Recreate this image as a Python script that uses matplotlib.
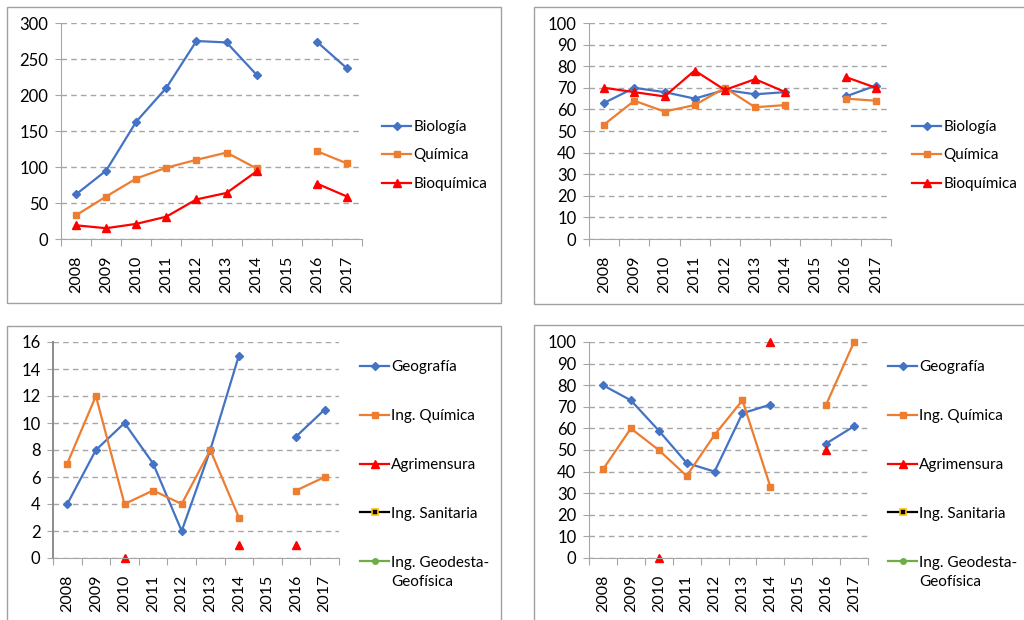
import numpy as np
import matplotlib
matplotlib.use("Agg")
import matplotlib.pyplot as plt
from matplotlib.patches import Rectangle

plt.rcParams['font.family'] = ['Lato', 'DejaVu Sans']

years = ['2008', '2009', '2010', '2011', '2012', '2013', '2014', '2015', '2016', '2017']
nan = np.nan

# Panel 1 (counts)
bio_count = [62, 95, 163, 210, 275, 273, 228, nan, 274, 237]
qui_count = [33, 59, 84, 99, 110, 120, 98, nan, 122, 105]
bioq_count = [19, 15, 21, 31, 55, 64, 94, nan, 77, 59]

# Panel 2 (percent)
bio_pct = [63, 70, 68, 65, 69, 67, 68, nan, 66, 71]
qui_pct = [53, 64, 59, 62, 70, 61, 62, nan, 65, 64]
bioq_pct = [70, 68, 66, 78, 69, 74, 68, nan, 75, 70]

# Panel 3 (counts)
geo_count = [4, 8, 10, 7, 2, 8, 15, nan, 9, 11]
ingq_count = [7, 12, 4, 5, 4, 8, 3, nan, 5, 6]
agr_count = [nan, nan, 0, nan, nan, nan, 1, nan, 1, nan]
san_count = [nan] * 10
geod_count = [nan] * 10

# Panel 4 (percent)
geo_pct = [80, 73, 59, 44, 40, 67, 71, nan, 53, 61]
ingq_pct = [41, 60, 50, 38, 57, 73, 33, nan, 71, 100]
agr_pct = [nan, nan, 0, nan, nan, nan, 100, nan, 50, nan]
san_pct = [nan] * 10
geod_pct = [nan] * 10

labels_top = ['Biología', 'Química', 'Bioquímica']
labels_bot = ['Geografía', 'Ing. Química', 'Agrimensura', 'Ing. Sanitaria', 'Ing. Geodesta-']
label_cont = 'Geofísica'

BLUE = '#4472C4'
ORANGE = '#ED7D31'
RED = '#FF0000'
BLACK = '#000000'
GREEN = '#70AD47'
GRID = '#A6A6A6'
AXIS = '#A6A6A6'
FS = 12
LFS = 11

W, H = 1024, 620
fig = plt.figure(figsize=(W / 100, H / 100), dpi=100)

# panel frames
for (x0, y0, x1, y1) in [(7, 7, 501, 303), (534, 7, 1030, 304), (7, 326, 501, 630), (534, 325, 1030, 630)]:
    fig.patches.append(Rectangle((x0 / W, 1 - y1 / H), (x1 - x0) / W, (y1 - y0) / H,
                                 transform=fig.transFigure, fill=False,
                                 edgecolor='#A0A0A0', linewidth=1.0, zorder=0))


def make_ax(left, right, top, bottom, ymax, ystep):
    ax = fig.add_axes([left / W, 1 - bottom / H, (right - left) / W, (bottom - top) / H])
    x = np.arange(len(years))
    ax.set_xlim(-0.5, len(years) - 0.5)
    ax.set_ylim(0, ymax)
    ax.set_yticks(np.arange(0, ymax + ystep / 2, ystep))
    ax.set_xticks(np.arange(-0.5, len(years)), minor=False)
    ax.set_xticklabels([])
    ax.set_xticks(x, minor=True)
    ax.set_xticklabels(years, minor=True, rotation=90, fontsize=11.5)
    ax.tick_params(axis='x', which='major', length=5, color=AXIS, direction='out')
    ax.tick_params(axis='x', which='minor', length=0, pad=12)
    ax.tick_params(axis='y', length=4, color=AXIS, labelsize=FS, pad=5)
    for s in ['top', 'right']:
        ax.spines[s].set_visible(False)
    ax.spines['left'].set_color(AXIS)
    ax.spines['bottom'].set_color(AXIS)
    ax.yaxis.grid(True, linestyle=(0, (4, 3)), color=GRID, linewidth=1.0)
    ax.set_axisbelow(True)
    ax.patch.set_alpha(0)
    return ax, x


def legend(ax, handles, labels, x_px, yc_px, spacing):
    leg = ax.legend(handles, labels, loc='center left',
                    bbox_to_anchor=(x_px / W, 1 - yc_px / H), bbox_transform=fig.transFigure,
                    frameon=False, fontsize=LFS, handlelength=1.9, handletextpad=0.15,
                    borderpad=0, borderaxespad=0, labelspacing=spacing)
    return leg


# Panel 1
ax1, x = make_ax(61, 362, 23, 239, 300, 50)
h = []
h += ax1.plot(x, bio_count, color=BLUE, marker='D', ms=4, lw=1.6, clip_on=False)
h += ax1.plot(x, qui_count, color=ORANGE, marker='s', ms=5, lw=1.6, clip_on=False)
h += ax1.plot(x, bioq_count, color=RED, marker='^', ms=5.5, lw=1.6, clip_on=False)
legend(ax1, h, labels_top, 382, 155.5, 0.95)

# Panel 2
ax2, x = make_ax(589, 891, 23, 239, 100, 10)
h = []
h += ax2.plot(x, bio_pct, color=BLUE, marker='D', ms=4, lw=1.6, clip_on=False)
h += ax2.plot(x, qui_pct, color=ORANGE, marker='s', ms=5, lw=1.6, clip_on=False)
h += ax2.plot(x, bioq_pct, color=RED, marker='^', ms=5.5, lw=1.6, clip_on=False)
legend(ax2, h, labels_top, 912, 155.5, 0.95)

bottom_legends = []


def bottom_panel(ax, x, geo, ingq, agr, san, geod, lx):
    h = []
    h += ax.plot(x, geo, color=BLUE, marker='D', ms=4, lw=1.6, clip_on=False)
    h += ax.plot(x, ingq, color=ORANGE, marker='s', ms=5, lw=1.6, clip_on=False)
    h += ax.plot(x, agr, color=RED, marker='^', ms=5.5, lw=1.6, clip_on=False)
    h += ax.plot(x, san, color=BLACK, marker='s', ms=5, mfc=BLACK, mec='#FFC000', mew=1.2, lw=1.6)
    h += ax.plot(x, geod, color=GREEN, marker='o', ms=4, lw=1.6)
    leg = legend(ax, h, labels_bot, lx, 465, 2.28)
    bottom_legends.append(leg)


# Panel 3
ax3, x = make_ax(53, 339, 342, 558, 16, 2)
ax3.spines['left'].set_color('#8C8C8C')
ax3.spines['left'].set_linewidth(1.4)
bottom_panel(ax3, x, geo_count, ingq_count, agr_count, san_count, geod_count, 360)

# Panel 4
ax4, x = make_ax(589, 868, 342, 558, 100, 10)
bottom_panel(ax4, x, geo_pct, ingq_pct, agr_pct, san_pct, geod_pct, 888)

# continuation line of the last legend label
fig.canvas.draw()
for leg in bottom_legends:
    bb = leg.get_texts()[-1].get_window_extent()
    fig.text(bb.x0 / W, (bb.y0 - 5) / H, label_cont, ha='left', va='top', fontsize=LFS)

fig.savefig('out.png', dpi=100)
